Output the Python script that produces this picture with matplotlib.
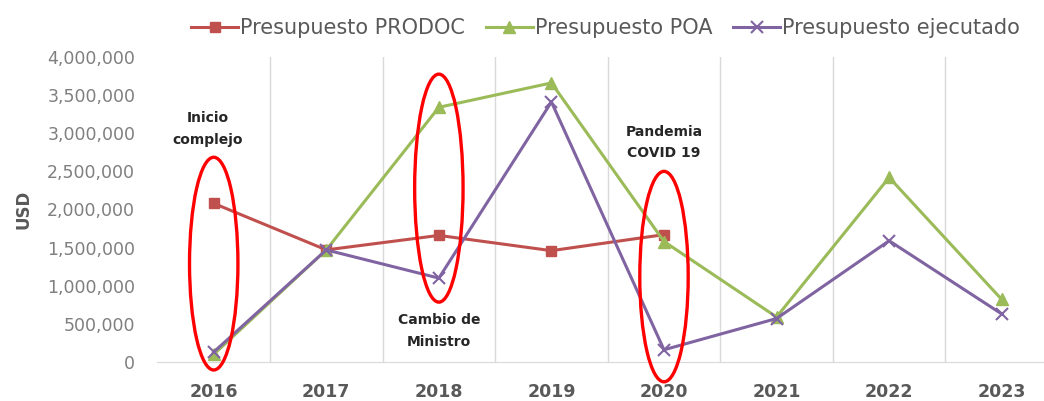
import matplotlib.pyplot as plt
import numpy as np
from matplotlib.patches import Ellipse
from matplotlib.ticker import FuncFormatter

#%% data
years = ["2016", "2017", "2018", "2019", "2020", "2021", "2022", "2023"]
prodoc = [2080000, 1470000, 1660000, 1460000, 1670000]
poa = [100000, 1470000, 3340000, 3660000, 1580000, 590000, 2420000, 820000]
ejecutado = [130000, 1470000, 1100000, 3410000, 160000, 570000, 1590000, 630000]

# annotations: (category index, text, y value)
notes = [(0, "Inicio\ncomplejo", 3060000),
         (2, "Cambio de\nMinistro", 410000),
         (4, "Pandemia\nCOVID 19", 2880000)]
note_dx = [-0.05, 0, 0]
# red ellipses: (category index, centre y, height)
rings = [(0, 1290000, 2790000), (2, 2280000, 2990000), (4, 1120000, 2760000)]

#%% plot
fig = plt.figure(figsize=(10.44, 4.01), dpi=100)
ax = fig.add_axes([0.1508, 0.0973, 0.8626, 0.7606])

x = np.arange(len(years))
ax.plot(x[:len(prodoc)], prodoc, color="#C0504D", lw=2.2, marker="s", ms=7,
        label="Presupuesto PRODOC")
ax.plot(x, poa, color="#9BBB59", lw=2.2, marker="^", ms=8,
        label="Presupuesto POA")
ax.plot(x, ejecutado, color="#8064A2", lw=2.2, marker="x", ms=9, mew=1.5,
        label="Presupuesto ejecutado")

for i, yc, h in rings:
    ax.add_patch(Ellipse((x[i], yc), 0.43, h, fill=False, ec="#FF0000",
                         lw=2.4, clip_on=False, zorder=5))

for (i, txt, yv), dx in zip(notes, note_dx):
    ax.text(x[i] + dx, yv, txt, ha="center", va="center", fontsize=10,
            color="#262626", fontweight="bold", linespacing=1.7)

ax.set_xlim(-0.5, 7.5)
ax.set_ylim(0, 4000000)
ax.set_yticks(np.arange(0, 4000001, 500000))
ax.yaxis.set_major_formatter(FuncFormatter(lambda v, p: f"{int(v):,}"))
ax.set_xticks(x)
ax.set_xticklabels(years)
ax.set_xticks(np.arange(0.5, 8, 1), minor=True)
ax.grid(which="minor", axis="x", color="#D9D9D9", lw=1)
ax.tick_params(which="both", length=0)
ax.tick_params(axis="y", pad=16, labelsize=12.5, labelcolor="#7F7F7F")
ax.tick_params(axis="x", pad=15, labelsize=12.5, labelcolor="#595959")
for lab in ax.get_xticklabels():
    lab.set_fontweight("bold")
for s in ["left", "right", "top"]:
    ax.spines[s].set_visible(False)
ax.spines["bottom"].set_color("#D9D9D9")

ax.set_ylabel("USD", fontsize=12, fontweight="bold", color="#595959")
ax.yaxis.set_label_coords(-0.139, 0.5)

leg = fig.legend(loc="center", bbox_to_anchor=(0.58, 0.93), ncol=3,
                 frameon=False, handlelength=2.25, columnspacing=1.0,
                 handletextpad=0.1,
                 prop={"family": "DejaVu Sans", "size": 15})
for t in leg.get_texts():
    t.set_color("#595959")

fig.savefig("out.png", dpi=100)
